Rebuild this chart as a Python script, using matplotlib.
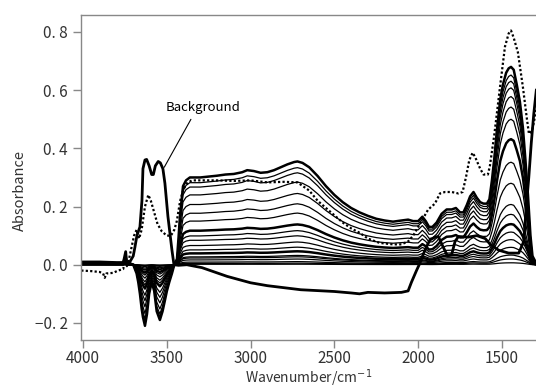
import numpy as np
import matplotlib.pyplot as plt

plt.rcParams['font.family'] = ['Noto Sans CJK JP', 'DejaVu Sans']

# family of difference spectra: shared wavenumber grid (cm-1)
wn_family = [4010, 3900, 3800, 3760, 3745, 3738, 3720, 3700, 3680, 3670, 3660,
             3650, 3642, 3630, 3618, 3605, 3590, 3575, 3560, 3541, 3525, 3510,
             3499, 3485, 3469, 3455, 3439, 3430, 3421, 3410, 3403, 3385, 3362,
             3300, 3250, 3200, 3150, 3100, 3050, 3020, 2980, 2940, 2900, 2860,
             2820, 2780, 2740, 2720, 2690, 2650, 2600, 2550, 2500, 2450, 2400,
             2350, 2300, 2250, 2200, 2150, 2100, 2060, 2030, 2000, 1975, 1955,
             1935, 1915, 1890, 1860, 1830, 1800, 1775, 1750, 1730, 1710, 1690,
             1670, 1650, 1630, 1610, 1590, 1575, 1560, 1545, 1530, 1510, 1494,
             1475, 1460, 1446, 1430, 1412, 1393, 1375, 1360, 1345, 1330, 1318,
             1300, 1290]

# broad OH / hydrogen-bonded band of the top spectrum
band_shape = [0.010, 0.010, 0.008, 0.008, 0.030, 0.000, 0.005, 0.000, -0.030,
              -0.060, -0.100, -0.150, -0.180, -0.210, -0.170, -0.100, -0.060,
              -0.090, -0.160, -0.190, -0.160, -0.120, -0.090, -0.060, -0.030,
              0.000, 0.020, 0.090, 0.170, 0.230, 0.270, 0.290, 0.300,
              0.300, 0.303, 0.306, 0.310, 0.312, 0.318, 0.325, 0.322, 0.316,
              0.318, 0.325, 0.335, 0.345, 0.353, 0.355, 0.350, 0.335, 0.305,
              0.270, 0.240, 0.215, 0.195, 0.180, 0.168, 0.158, 0.152, 0.148,
              0.152, 0.155, 0.150, 0.150, 0.140, 0.130, 0.125, 0.120, 0.115,
              0.110, 0.105, 0.100, 0.095, 0.090, 0.088, 0.085, 0.082, 0.080,
              0.077, 0.074, 0.070, 0.067, 0.065, 0.062, 0.060, 0.056, 0.052,
              0.049, 0.045, 0.042, 0.040, 0.037, 0.034, 0.030, 0.026, 0.022,
              0.018, 0.014, 0.010, 0.008, 0.008]

# fingerprint peaks of the top spectrum (added on top of the band)
peak_shape = [0.0] * 64 + [
              0.025, 0.020, 0.005, 0.010, 0.030, 0.065, 0.085, 0.090, 0.100,
              0.090, 0.092, 0.120, 0.153, 0.170, 0.153, 0.141, 0.140, 0.143,
              0.160, 0.228, 0.310, 0.409, 0.518, 0.571, 0.615, 0.633, 0.640,
              0.633, 0.586, 0.530, 0.444, 0.338, 0.222, 0.086, 0.020, 0.002,
              0.000]

band_scales = [1.0, 0.94, 0.89, 0.80, 0.69, 0.59, 0.50, 0.39, 0.33, 0.28,
               0.22, 0.17, 0.13, 0.09, 0.077, 0.055, 0.03, 0.015, 0.005]
peak_scales = [1.0, 0.96, 0.93, 0.90, 0.86, 0.81, 0.75, 0.65, 0.53, 0.42,
               0.31, 0.26, 0.21, 0.17, 0.13, 0.09, 0.05, 0.03, 0.01]
thick_curves = [0, 7, 12]

# dotted spectrum
wn_dotted = [4010, 3950, 3900, 3880, 3870, 3860, 3820, 3790, 3760, 3745, 3738,
             3725, 3710, 3695, 3680, 3665, 3650, 3630, 3610, 3595, 3575, 3555,
             3530, 3500, 3475, 3455, 3440, 3420, 3400, 3380, 3350, 3300, 3200,
             3100, 3000, 2900, 2800, 2720, 2650, 2600, 2550, 2500, 2450, 2400,
             2350, 2300, 2230, 2150, 2100, 2060, 2030, 2000, 1970, 1940, 1900,
             1870, 1840, 1800, 1760, 1735, 1715, 1695, 1675, 1660, 1630, 1610,
             1584, 1572, 1545, 1512, 1482, 1460, 1446, 1430, 1405, 1375, 1351,
             1339, 1320, 1303, 1290]
abs_dotted = [-0.020, -0.022, -0.025, -0.030, -0.045, -0.030, -0.028, -0.020,
              -0.015, 0.020, -0.005, 0.020, 0.060, 0.100, 0.120, 0.090, 0.120,
              0.200, 0.240, 0.220, 0.180, 0.140, 0.115, 0.100, 0.100, 0.120,
              0.150, 0.220, 0.260, 0.280, 0.290, 0.290, 0.290, 0.288, 0.290,
              0.283, 0.285, 0.283, 0.255, 0.220, 0.195, 0.170, 0.145, 0.125,
              0.110, 0.090, 0.075, 0.070, 0.070, 0.080, 0.100, 0.130, 0.160,
              0.190, 0.210, 0.245, 0.250, 0.250, 0.245, 0.250, 0.300, 0.360,
              0.385, 0.370, 0.330, 0.310, 0.310, 0.340, 0.450, 0.610, 0.750,
              0.795, 0.805, 0.780, 0.730, 0.610, 0.500, 0.450, 0.460, 0.510,
              0.550]

# background spectrum
wn_bg = [4010, 3760, 3745, 3738, 3720, 3700, 3690, 3678, 3660, 3648, 3642,
         3630, 3620, 3605, 3590, 3580, 3568, 3551, 3538, 3523, 3511, 3493,
         3469, 3457, 3430, 3380, 3290, 3140, 3000, 2900, 2700, 2500, 2400,
         2350, 2300, 2200, 2100, 2060, 2040, 2010, 1990, 1960, 1930, 1900,
         1880, 1850, 1825, 1800, 1780, 1760, 1700, 1650, 1600, 1570, 1520,
         1460, 1400, 1370, 1355, 1340, 1325, 1310, 1295]
abs_bg = [0.005, 0.005, 0.045, 0.000, 0.010, 0.030, 0.060, 0.100, 0.130,
          0.220, 0.330, 0.360, 0.362, 0.340, 0.310, 0.310, 0.340, 0.355,
          0.350, 0.330, 0.280, 0.166, 0.050, 0.000, -0.002, 0.000, -0.010,
          -0.040, -0.062, -0.072, -0.086, -0.092, -0.097, -0.100, -0.095,
          -0.097, -0.095, -0.090, -0.060, -0.020, 0.005, 0.050, 0.085, 0.095,
          0.097, 0.060, 0.030, 0.035, 0.080, 0.097, 0.095, 0.100, 0.090,
          0.070, 0.050, 0.040, 0.040, 0.080, 0.200, 0.300, 0.420, 0.520,
          0.600]

xticks = [4000, 3500, 3000, 2500, 2000, 1500]
yticks = [-0.2, 0.0, 0.2, 0.4, 0.6, 0.8]
ytick_labels = ['\u22120. 2', '0. 0', '0. 2', '0. 4', '0. 6', '0. 8']

fig = plt.figure(figsize=(5.36, 3.90), dpi=100)
ax = fig.add_axes([0.151, 0.128, 0.849, 0.834])

band = np.array(band_shape)
peak = np.array(peak_shape)
for i, (bs, ps) in enumerate(zip(band_scales, peak_scales)):
    lw = 1.8 if i in thick_curves else 0.9
    ax.plot(wn_family, bs * band + ps * peak, color='black', lw=lw)

ax.plot(wn_dotted, abs_dotted, color='black', lw=1.6, linestyle=(0, (1, 1)))
ax.plot(wn_bg, abs_bg, color='black', lw=2.0)

ax.annotate('Background', xy=(3515, 0.335), xytext=(3285, 0.54),
            ha='center', va='center', fontsize=9.5,
            arrowprops=dict(arrowstyle='-', lw=0.8, color='black',
                            relpos=(0.38, 0.0), shrinkA=2, shrinkB=0))

ax.set_xlim(4012, 1297)
ax.set_ylim(-0.259, 0.859)
ax.set_xticks(xticks)
ax.set_xticklabels([str(t) for t in xticks])
ax.set_yticks(yticks)
ax.set_yticklabels(ytick_labels)

for side in ['left', 'bottom', 'top']:
    ax.spines[side].set_color('#888888')
    ax.spines[side].set_linewidth(1.0)
ax.spines['right'].set_visible(False)
ax.tick_params(direction='out', length=6, width=1.0, color='#888888',
               labelsize=11, labelcolor='#333333')
ax.tick_params(axis='x', pad=1.5)

ax.set_xlabel('Wavenumber/cm$^{-1}$', fontsize=10, color='#333333', labelpad=0)
ax.set_ylabel('Absorbance', fontsize=10.5, color='#333333')
ax.yaxis.set_label_coords(-0.118, 0.46)

fig.savefig('out.png', dpi=100)
